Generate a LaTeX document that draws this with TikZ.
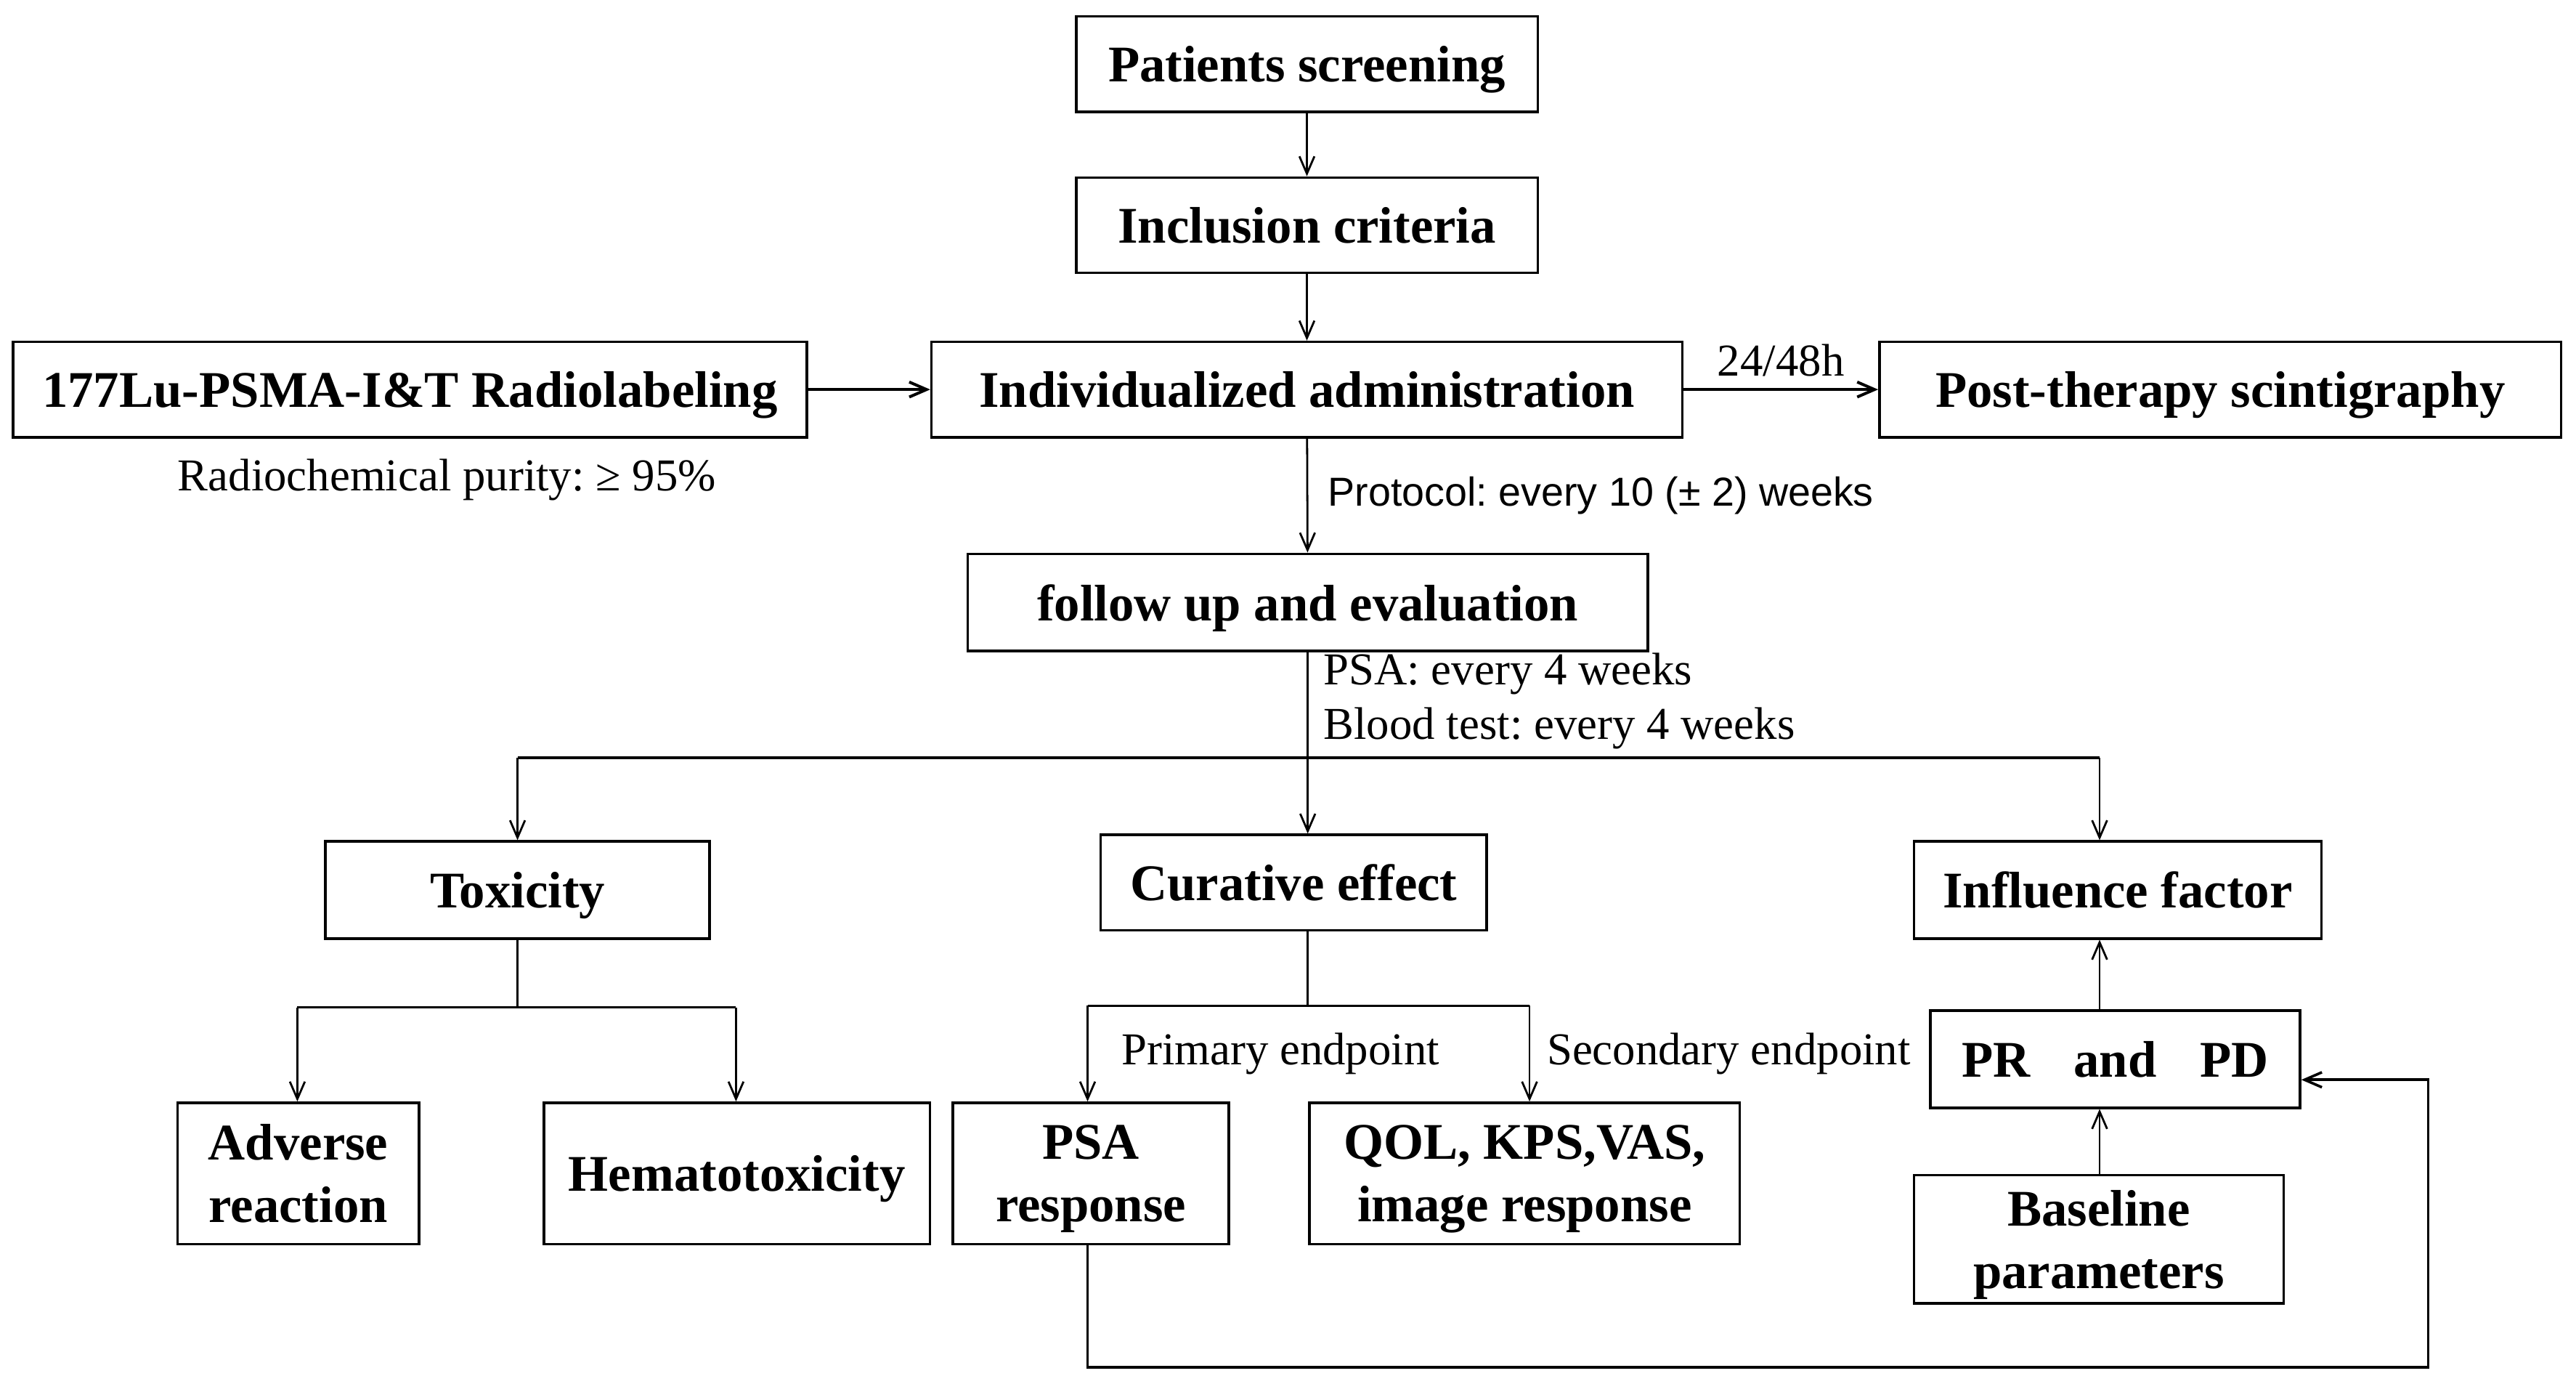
\documentclass[tikz,border=0pt]{standalone}
\usepackage{fontspec}
\setmainfont{Liberation Serif}
\newfontfamily\arialfont{Liberation Sans}
\usetikzlibrary{arrows.meta, positioning, calc}
\frenchspacing

\begin{document}
\begin{tikzpicture}[
  box/.style={draw, line width=0.45pt, inner sep=0pt, align=center, text depth=0pt, font=\bfseries\fontsize{8.9}{10.8}\selectfont},
  note/.style={inner sep=0pt, font=\fontsize{7.9}{9}\selectfont},
  line/.style={line width=0.35pt},
  arr/.style={line width=0.35pt, -{Straight Barb[length=3pt, width=2.6pt]}}]

\useasboundingbox (0,0) rectangle (15.68,-8.42);

% top of the chart
\node [box, minimum width=2.81cm, minimum height=0.58cm] (screen) at (7.955,-0.39) {Patients screening};
\node [box, minimum width=2.81cm, minimum height=0.58cm] (incl) at (7.955,-1.37) {Inclusion criteria};
\node [box, minimum width=4.83cm, minimum height=0.58cm] (label) at (2.495,-2.37) {177Lu-PSMA-I\&T Radiolabeling};
\node [box, minimum width=4.57cm, minimum height=0.58cm] (admin) at (7.955,-2.37) {Individualized administration};
\node [box, minimum width=4.15cm, minimum height=0.58cm] (post) at (13.515,-2.37) {Post-therapy scintigraphy};
\node [box, minimum width=4.14cm, minimum height=0.59cm] (follow) at (7.96,-3.665) {follow up and evaluation};

\node [note] (purity) at (2.72,-2.92) {Radiochemical purity: ≥ 95\%};

\draw [arr] (screen) -- (incl);
\draw [arr] (incl) -- (admin);
\draw [arr, line width=0.5pt] (label) -- (admin);
\draw [arr, line width=0.5pt] (admin) -- node [note, above=2pt] (hours) {24/48h} (post);
\draw [arr] (admin) -- node [note, right=0.12cm, font=\arialfont\fontsize{7}{8}\selectfont] (proto) {Protocol: every 10 (± 2) weeks} (follow);

% % % % % % % % % % % % % % % % % % % % % % % % % %

\node [box, minimum width=2.34cm, minimum height=0.59cm] (tox) at (3.15,-5.415) {Toxicity};
\node [box, minimum width=2.35cm, minimum height=0.58cm] (cur) at (7.875,-5.37) {Curative effect};
\node [box, minimum width=2.48cm, minimum height=0.59cm] (infl) at (12.89,-5.415) {Influence factor};

\node [note, anchor=west] (psa) at (8.05,-4.10) {PSA: every 4 weeks};
\node [note, anchor=west] (blood) at (8.05,-4.43) {Blood test: every 4 weeks};

\coordinate (split) at (7.96,-4.61);
\coordinate (toxtop) at (3.15,-4.61);
\coordinate (infltop) at (12.78,-4.61);

\draw [line, line width=0.55pt] (toxtop) -- (infltop);
\draw [arr] (follow.south) -- (follow.south |- cur.north);
\draw [arr] (toxtop) -- (tox.north);
\draw [arr] (infltop) -- (infltop |- infl.north);

% bottom row
\node [box, minimum width=1.47cm, minimum height=0.86cm] (adv) at (1.815,-7.14) {Adverse\\reaction};
\node [box, minimum width=2.35cm, minimum height=0.86cm] (hema) at (4.485,-7.14) {Hematotoxicity};
\node [box, minimum width=1.68cm, minimum height=0.86cm] (psar) at (6.64,-7.14) {PSA\\response};
\node [box, minimum width=2.62cm, minimum height=0.86cm] (qol) at (9.28,-7.14) {QOL, KPS,VAS,\\image response};
\node [box, minimum width=2.25cm, minimum height=0.59cm] (prpd) at (12.875,-6.445) {PR\hspace{0.6em} and\hspace{0.6em} PD};
\node [box, minimum width=2.25cm, minimum height=0.78cm] (base) at (12.775,-7.54) {Baseline\\parameters};

\coordinate (toxmid) at (3.15,-6.13);
\coordinate (advtop) at (1.81,-6.13);
\coordinate (hematop) at (4.48,-6.13);
\draw [line] (tox.south) -- (toxmid);
\draw [line] (advtop) -- (hematop);
\draw [arr] (advtop) -- (advtop |- adv.north);
\draw [arr] (hematop) -- (hematop |- hema.north);

\coordinate (curmid) at (7.96,-6.12);
\coordinate (psatop) at (6.62,-6.12);
\coordinate (qoltop) at (9.31,-6.12);
\draw [line] (curmid |- cur.south) -- (curmid);
\draw [line] (psatop) -- (qoltop);
\draw [arr] (psatop) -- node [note, right=0.2cm] (prim) {Primary endpoint} (psatop |- psar.north);
\draw [arr] (qoltop) -- node [note, right=0.1cm] (sec) {Secondary endpoint} (qoltop |- qol.north);

\coordinate (pfx) at (12.78,0);
\draw [arr] (pfx |- base.north) -- (pfx |- prpd.south);
\draw [arr] (pfx |- prpd.north) -- (pfx |- infl.south);

% loop back to PR and PD
\coordinate (loopa) at (6.62,-8.32);
\coordinate (loopb) at (14.78,-8.32);
\coordinate (loopc) at (14.78,-6.57);
\draw [arr, line width=0.45pt] (psatop |- psar.south) -- (loopa) -- (loopb) -- (loopc) -- (prpd.east |- loopc);
\end{tikzpicture}
\end{document}
